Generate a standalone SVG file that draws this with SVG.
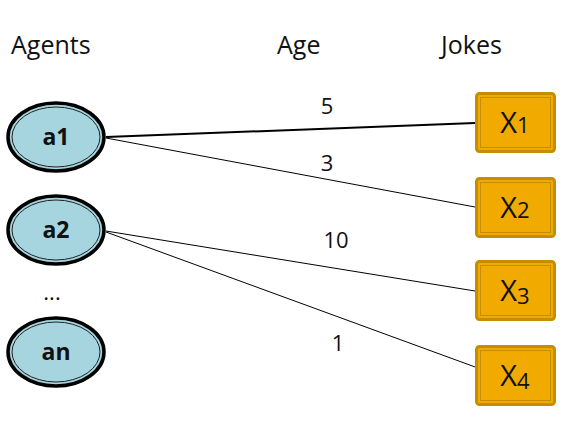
<svg xmlns="http://www.w3.org/2000/svg" width="572" height="430" viewBox="0 0 572 430">
<style>
.hdr{font-family:"Open Sans","Liberation Sans",sans-serif;font-size:25px;fill:#111}
.lbl{font-family:"Open Sans","Liberation Sans",sans-serif;font-size:22px;fill:#111;text-anchor:middle}
.agt{font-family:"Open Sans","Liberation Sans",sans-serif;font-size:23px;font-weight:bold;fill:#111;text-anchor:middle}
.jk{font-family:"Open Sans","Liberation Sans",sans-serif;font-size:29px;fill:#111;text-anchor:middle}
.sub{font-size:22px}
.eo{fill:#a6d5e0;stroke:#000;stroke-width:3.5}
.ei{fill:none;stroke:#222;stroke-width:1}
.bo{fill:#f0aa00;stroke:#c48e00;stroke-width:3}
.bi{fill:none;stroke:#c48e00;stroke-width:1}
.ln{stroke:#000;fill:none}
</style>
<rect width="572" height="430" fill="#fff"/>
<text class="hdr" x="11" y="54">Agents</text>
<text class="hdr" x="277" y="54">Age</text>
<text class="hdr" x="441" y="54">Jokes</text>
<g id="connectors">
<line class="ln" x1="106" y1="137" x2="475" y2="123" stroke-width="2"/>
<line class="ln" x1="106" y1="138" x2="475" y2="207" stroke-width="1"/>
<line class="ln" x1="106" y1="231" x2="475" y2="291" stroke-width="1"/>
<line class="ln" x1="106" y1="232" x2="497" y2="375" stroke-width="1"/>
<text class="lbl" x="327" y="114">5</text>
<text class="lbl" x="327" y="171">3</text>
<text class="lbl" x="336" y="248">10</text>
<text class="lbl" x="338" y="351">1</text>
</g>
<g id="a1">
<ellipse class="eo" cx="56" cy="137" rx="48" ry="34"/>
<ellipse class="ei" cx="56" cy="137" rx="44" ry="30"/>
<text class="agt" x="56" y="145">a1</text>
</g>
<g id="a2">
<ellipse class="eo" cx="56" cy="230" rx="48" ry="34"/>
<ellipse class="ei" cx="56" cy="230" rx="44" ry="30"/>
<text class="agt" x="56" y="238">a2</text>
</g>
<text class="lbl" x="52" y="300">...</text>
<g id="an">
<ellipse class="eo" cx="56" cy="352" rx="48" ry="34"/>
<ellipse class="ei" cx="56" cy="352" rx="44" ry="30"/>
<text class="agt" x="56" y="360">an</text>
</g>
<g id="X1">
<rect class="bo" x="476.5" y="93.5" width="78" height="58" rx="3"/>
<rect class="bi" x="480.5" y="97.5" width="70" height="50"/>
<text class="jk" x="515" y="133">X<tspan class="sub">1</tspan></text>
</g>
<g id="X2">
<rect class="bo" x="476.5" y="178.5" width="78" height="58" rx="3"/>
<rect class="bi" x="480.5" y="182.5" width="70" height="50"/>
<text class="jk" x="515" y="218">X<tspan class="sub">2</tspan></text>
</g>
<g id="X3">
<rect class="bo" x="476.5" y="261.5" width="78" height="58" rx="3"/>
<rect class="bi" x="480.5" y="265.5" width="70" height="50"/>
<text class="jk" x="515" y="301">X<tspan class="sub" dy="3">3</tspan></text>
</g>
<g id="X4">
<rect class="bo" x="476.5" y="346.5" width="78" height="58" rx="3"/>
<rect class="bi" x="480.5" y="350.5" width="70" height="50"/>
<text class="jk" x="515" y="386">X<tspan class="sub" dy="3">4</tspan></text>
</g>
</svg>
